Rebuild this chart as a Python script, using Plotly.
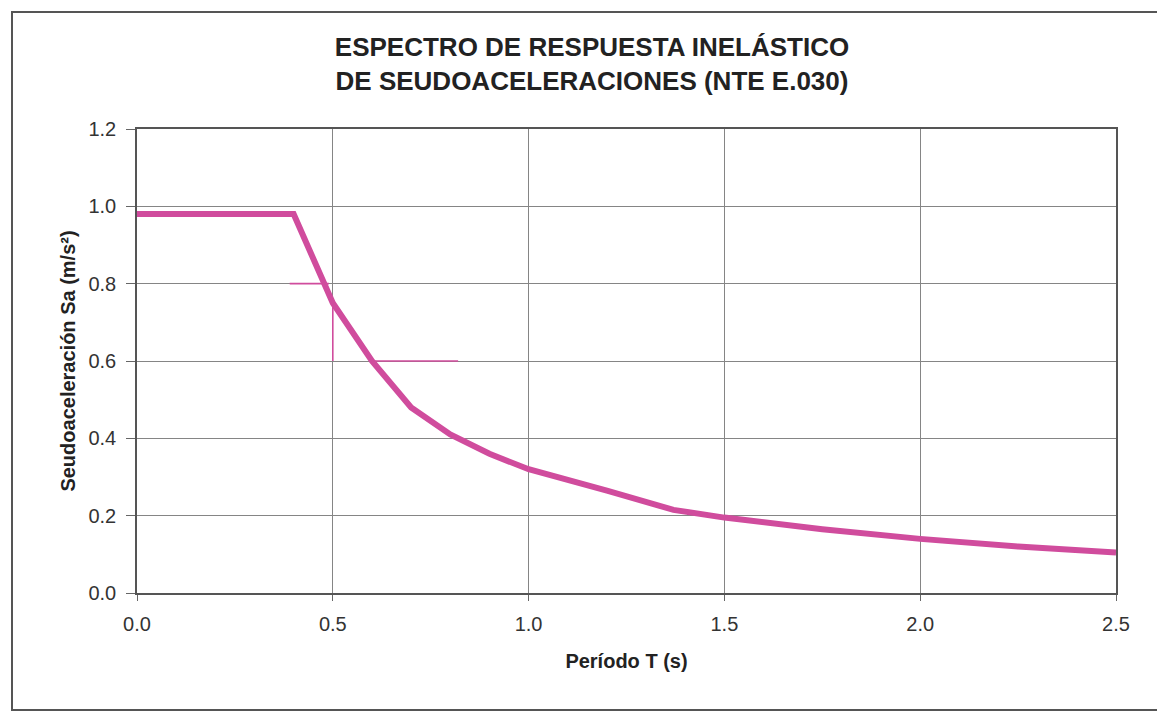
import plotly.graph_objects as go

# Inelastic pseudo-acceleration spectrum (NTE E.030)
periodo_t = [0.0, 0.4, 0.5, 0.6, 0.7, 0.8, 0.9, 1.0, 1.2, 1.37, 1.5, 1.75, 2.0, 2.25, 2.5]
sa = [0.98, 0.98, 0.75, 0.60, 0.48, 0.41, 0.36, 0.32, 0.265, 0.215, 0.195, 0.165, 0.14, 0.12, 0.105]

# Thin reference marks drawn over the curve
guide_t = [0.39, 0.49, None, 0.5, 0.5, None, 0.6, 0.82]
guide_sa = [0.80, 0.80, None, 0.75, 0.60, None, 0.60, 0.60]

x_ticks = [0.0, 0.5, 1.0, 1.5, 2.0, 2.5]
x_tick_labels = ["0.0", "0.5", "1.0", "1.5", "2.0", "2.5"]
y_ticks = [0.0, 0.2, 0.4, 0.6, 0.8, 1.0, 1.2]
y_tick_labels = ["0.0", "0.2", "0.4", "0.6", "0.8", "1.0", "1.2"]

curve_color = "#d04c9d"
font_family = "Liberation Sans, Arial, sans-serif"

W, H = 1157, 713
L, R, T, B = 137, 41, 129, 120
pw, ph = W - L - R, H - T - B

fig = go.Figure()
fig.add_trace(go.Scatter(
    x=periodo_t, y=sa, mode="lines",
    line=dict(color=curve_color, width=6),
    showlegend=False, hoverinfo="x+y",
))
fig.add_trace(go.Scatter(
    x=guide_t, y=guide_sa, mode="lines",
    line=dict(color=curve_color, width=1.6),
    showlegend=False, hoverinfo="skip", connectgaps=False,
))

def px_to_paper_x(px):
    return (px - L) / pw

def px_to_paper_y(py):
    return (H - B - py) / ph

# outer frame around the whole chart
fig.add_shape(
    type="rect", xref="paper", yref="paper",
    x0=px_to_paper_x(12), x1=px_to_paper_x(1170),
    y0=px_to_paper_y(710), y1=px_to_paper_y(12),
    line=dict(color="#555555", width=2), fillcolor="rgba(0,0,0,0)", layer="below",
)

fig.update_layout(
    width=W, height=H,
    margin=dict(l=L, r=R, t=T, b=B),
    paper_bgcolor="white", plot_bgcolor="white",
    font=dict(family=font_family, color="#333333"),
    title=dict(
        text="ESPECTRO DE RESPUESTA INELÁSTICO<br>DE SEUDOACELERACIONES (NTE E.030)",
        x=px_to_paper_x(592), xref="paper", xanchor="center",
        y=1 - 56 / H, yanchor="middle",
        font=dict(family=font_family, size=26, color="#222222", weight="bold"),
    ),
    xaxis=dict(
        range=[0, 2.5], tickvals=x_ticks, ticktext=x_tick_labels,
        showgrid=True, gridcolor="#858585", gridwidth=1,
        showline=True, linecolor="#555555", linewidth=1.5, mirror=True,
        ticks="outside", ticklen=6, tickcolor="#666666",
        ticklabelstandoff=6,
        tickfont=dict(size=20, color="#333333"),
        zeroline=False,
        title=dict(text="Período T (s)", standoff=20,
                   font=dict(size=20, color="#222222", weight="bold")),
    ),
    yaxis=dict(
        range=[0, 1.2], tickvals=y_ticks, ticktext=y_tick_labels,
        showgrid=True, gridcolor="#858585", gridwidth=1,
        showline=True, linecolor="#555555", linewidth=1.5, mirror=True,
        ticks="outside", ticklen=9, tickcolor="#666666",
        ticklabelstandoff=6,
        tickfont=dict(size=20, color="#333333"),
        zeroline=False,
        title=dict(text="Seudoaceleración Sa (m/s²)", standoff=7,
                   font=dict(size=20, color="#222222", weight="bold")),
    ),
)

fig.write_html("out.html")
